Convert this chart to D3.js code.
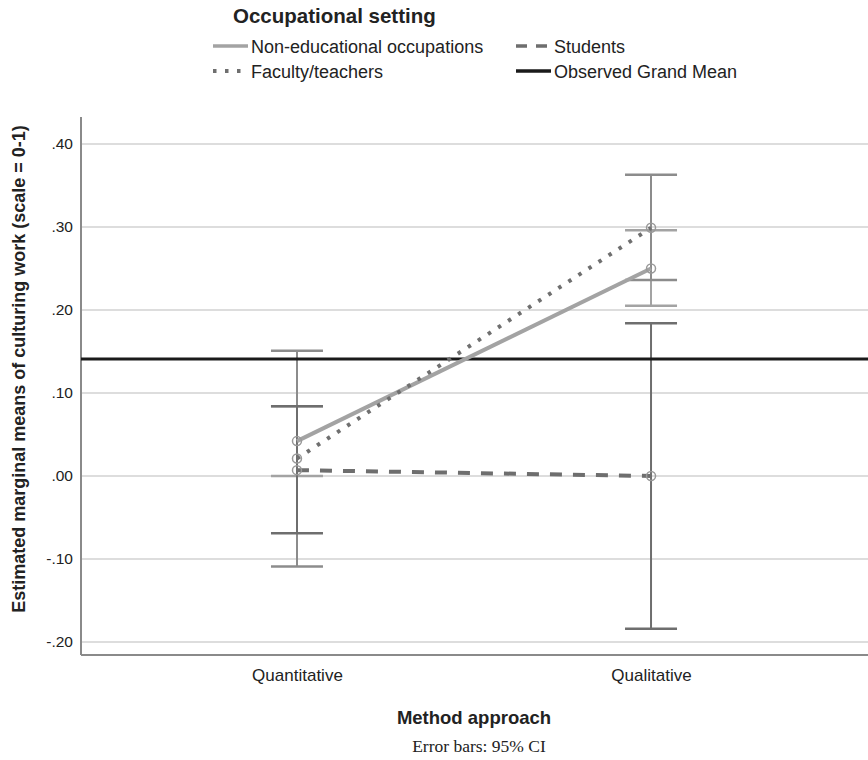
<!DOCTYPE html>
<html>
<head>
<meta charset="utf-8">
<script src="https://cdn.jsdelivr.net/npm/d3@7"></script>
<style>
  body { margin: 0; background: #fff; }
  svg { font-family: "Liberation Sans", Arial, sans-serif; }
</style>
</head>
<body>
<svg id="chart" width="868" height="760"></svg>
<script>
// values
const methods = ['Quantitative', 'Qualitative']
const groups = ['Non-educational occupations', 'Faculty/teachers', 'Students']

const nonEdMeans = [0.042, 0.250]
const nonEdLower = [0.000, 0.205]
const nonEdUpper = [0.084, 0.296]

const facultyMeans = [0.021, 0.299]
const facultyLower = [-0.109, 0.236]
const facultyUpper = [0.151, 0.363]

const studentMeans = [0.007, 0.000]
const studentLower = [-0.069, -0.184]
const studentUpper = [0.084, 0.184]

const grandMean = 0.141
const yTicks = [-0.2, -0.1, 0, 0.1, 0.2, 0.3, 0.4]

let dimensions = {
  width: 868,
  height: 760,
  margin: { top: 117, bottom: 105, left: 81, right: 1 }
}

let series = [
  { name: groups[0], means: nonEdMeans, lower: nonEdLower, upper: nonEdUpper, color: '#a3a3a3', barColor: '#a3a3a3', dash: null },
  { name: groups[1], means: facultyMeans, lower: facultyLower, upper: facultyUpper, color: '#6f6f6f', barColor: '#8c8c8c', dash: '3.5,8.5' },
  { name: groups[2], means: studentMeans, lower: studentLower, upper: studentUpper, color: '#6e6e6e', barColor: '#6e6e6e', dash: '12,11' }
]

let svg = d3.select('#chart')

let xScale = d3.scalePoint()
  .domain(methods)
  .range([dimensions.margin.left, dimensions.width - dimensions.margin.right])
  .padding(0.61)

let yScale = d3.scaleLinear()
  .domain([-0.2157, 0.4325])
  .range([dimensions.height - dimensions.margin.bottom, dimensions.margin.top])

let fmt = v => d3.format('.2f')(v).replace('0.', '.').replace('−', '-')

// gridlines
svg.append('g')
  .selectAll('line')
  .data(yTicks)
  .enter()
  .append('line')
  .attr('x1', dimensions.margin.left)
  .attr('x2', dimensions.width)
  .attr('y1', d => yScale(d))
  .attr('y2', d => yScale(d))
  .attr('stroke', '#d2d2d2')
  .attr('stroke-width', 1.5)

// y axis
let yAxisgen = d3.axisLeft(yScale).tickValues(yTicks).tickFormat(fmt).tickSize(0).tickPadding(8)
let yAxis = svg.append('g')
  .attr('transform', `translate(${dimensions.margin.left},0)`)
  .call(yAxisgen)
yAxis.select('.domain').remove()
yAxis.selectAll('text').style('font-size', '15.5px').attr('fill', '#222').attr('font-family', '"Liberation Sans", Arial, sans-serif')

svg.append('line')
  .attr('x1', dimensions.margin.left).attr('x2', dimensions.margin.left)
  .attr('y1', dimensions.margin.top).attr('y2', dimensions.height - dimensions.margin.bottom)
  .attr('stroke', '#8a8a8a').attr('stroke-width', 2)

// x axis
let xAxisgen = d3.axisBottom(xScale).tickSize(0).tickPadding(14)
let xAxis = svg.append('g')
  .attr('transform', `translate(0,${dimensions.height - dimensions.margin.bottom})`)
  .call(xAxisgen)
xAxis.select('.domain').remove()
xAxis.selectAll('text').style('font-size', '17px').attr('fill', '#222').attr('font-family', '"Liberation Sans", Arial, sans-serif')

svg.append('line')
  .attr('x1', dimensions.margin.left).attr('x2', dimensions.width)
  .attr('y1', dimensions.height - dimensions.margin.bottom).attr('y2', dimensions.height - dimensions.margin.bottom)
  .attr('stroke', '#8a8a8a').attr('stroke-width', 2)

// error bars
let capHalf = 26
series.forEach(s => {
  let g = svg.append('g')
  methods.forEach((m, i) => {
    let x = xScale(m)
    g.append('line')
      .attr('x1', x).attr('x2', x)
      .attr('y1', yScale(s.lower[i])).attr('y2', yScale(s.upper[i]))
      .attr('stroke', s.barColor).attr('stroke-width', 2)
    ;[s.lower[i], s.upper[i]].forEach(v => {
      g.append('line')
        .attr('x1', x - capHalf).attr('x2', x + capHalf)
        .attr('y1', yScale(v)).attr('y2', yScale(v))
        .attr('stroke', s.barColor).attr('stroke-width', 2.5)
    })
  })
})

// observed grand mean
svg.append('line')
  .attr('x1', dimensions.margin.left).attr('x2', dimensions.width)
  .attr('y1', yScale(grandMean)).attr('y2', yScale(grandMean))
  .attr('stroke', '#1a1a1a').attr('stroke-width', 3)

// series lines + markers
let line = d3.line().x((d, i) => xScale(methods[i])).y(d => yScale(d))
series.forEach(s => {
  svg.append('path')
    .attr('d', line(s.means))
    .attr('fill', 'none')
    .attr('stroke', s.color)
    .attr('stroke-width', 4)
    .attr('stroke-dasharray', s.dash)
  svg.selectAll(null)
    .data(s.means)
    .enter()
    .append('circle')
    .attr('cx', (d, i) => xScale(methods[i]))
    .attr('cy', d => yScale(d))
    .attr('r', 4.5)
    .attr('fill', 'none')
    .attr('stroke', '#999')
    .attr('stroke-width', 1.5)
})

// axis titles
svg.append('text')
  .attr('transform', `translate(25,${(dimensions.margin.top + dimensions.height - dimensions.margin.bottom) / 2 - 17}) rotate(-90)`)
  .attr('text-anchor', 'middle')
  .style('font-size', '18px')
  .style('font-weight', 'bold')
  .attr('fill', '#222')
  .text('Estimated marginal means of culturing work (scale = 0-1)')

svg.append('text')
  .attr('x', 474).attr('y', 724)
  .attr('text-anchor', 'middle')
  .style('font-size', '18.5px')
  .style('font-weight', 'bold')
  .attr('fill', '#222')
  .text('Method approach')

svg.append('text')
  .attr('x', 479).attr('y', 752)
  .attr('text-anchor', 'middle')
  .style('font-size', '17.5px')
  .style('font-family', '"Liberation Serif", "Times New Roman", serif')
  .attr('fill', '#222')
  .text('Error bars: 95% CI')

// legend
svg.append('text')
  .attr('x', 233).attr('y', 23)
  .style('font-size', '20.5px')
  .style('font-weight', 'bold')
  .attr('fill', '#222')
  .text('Occupational setting')

let legendItems = [
  { label: groups[0], x: 213, y: 46, color: series[0].color, dash: null, width: 3.5 },
  { label: groups[1], x: 213, y: 71, color: series[1].color, dash: '3.5,8.5', width: 4 },
  { label: groups[2], x: 516, y: 46, color: series[2].color, dash: '11,9', width: 3.5 },
  { label: 'Observed Grand Mean', x: 516, y: 71, color: '#1a1a1a', dash: null, width: 3.5 }
]
legendItems.forEach(d => {
  svg.append('line')
    .attr('x1', d.x).attr('x2', d.x + 35)
    .attr('y1', d.y).attr('y2', d.y)
    .attr('stroke', d.color)
    .attr('stroke-width', d.width)
    .attr('stroke-dasharray', d.dash)
  svg.append('text')
    .attr('x', d.x + 38).attr('y', d.y + 7)
    .style('font-size', '18px')
    .attr('fill', '#222')
    .text(d.label)
})
</script>
</body>
</html>
